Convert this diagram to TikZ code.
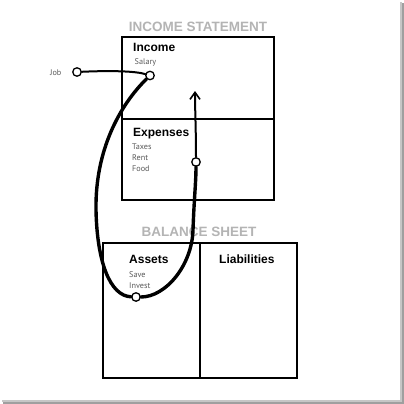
\documentclass[tikz,border=0pt]{standalone}
\usepackage{fontspec}
\setmainfont{Liberation Sans}
\newfontfamily\smallfont{PT Sans}
\usetikzlibrary{arrows.meta}
\definecolor{titlegray}{HTML}{B4B4B4}
\definecolor{smallgray}{HTML}{5A5A5A}
\tikzset{
  box/.style={draw=black, line width=1.6pt},
  ttl/.style={text=titlegray, font=\bfseries\fontsize{13.5}{14}\selectfont, inner sep=0pt},
  head/.style={anchor=base west, font=\bfseries\fontsize{12}{13}\selectfont, inner sep=0pt},
  small/.style={anchor=base west, text=smallgray, font=\smallfont\fontsize{8.2}{9}\selectfont, inner sep=0pt},
  dot/.style={circle, draw=black, fill=white, line width=1.3pt, minimum size=8.5pt, inner sep=0pt},
  flow/.style={line width=3.4pt, line cap=round},
  thin flow/.style={line width=2pt, line cap=round},
}
\begin{document}
\begin{tikzpicture}[x=1pt,y=-1pt]
\useasboundingbox (0,0) rectangle (404,404);
% page with drop shadow
\fill[gray!75] (3,3) rectangle (403.5,403.5);
\fill[gray!45] (2,2) rectangle (401.5,401.5);
\fill[white] (0,0) rectangle (400,400);
% income statement
\draw[box] (122,37) rectangle (274,200);
\draw[box] (122,119) -- (274,119);
\node[ttl] (ist) at (198,27) {INCOME STATEMENT};
\node[head] (income) at (133,52) {Income};
\node[small] (salary) at (134.5,65) {Salary};
\node[head] (expenses) at (133,136) {Expenses};
\node[small] (taxes) at (132,149) {Taxes};
\node[small] (rent) at (132,160) {Rent};
\node[small] (food) at (132,171) {Food};
% balance sheet
\draw[box] (103,243) rectangle (297,378);
\draw[box] (200,243) -- (200,378);
\node[ttl] (bst) at (199,232) {BALANCE SHEET};
\node[head] (assets) at (129,263) {Assets};
\node[small] (save) at (129,277) {Save};
\node[small] (invest) at (129,288) {Invest};
\node[head] (liab) at (219,263) {Liabilities};
% job
\node[small] (job) at (50,75) {Job};
% flow
\node[dot] (jobdot) at (77,72) {};
\node[dot] (saldot) at (150,75.5) {};
\node[dot] (expdot) at (196,162) {};
\node[dot] (assdot) at (136,297) {};
\coordinate (tip) at (195,91);
\draw[thin flow] (jobdot) .. controls (110,70.5) and (135,71) .. (saldot);
\draw[flow] (saldot) .. controls (120,105) and (95,150) .. (96,210)
   .. controls (97,262) and (110,296) .. (assdot);
\draw[flow] (assdot) .. controls (166,297) and (192,265) .. (193,230)
   .. controls (194,200) and (196,182) .. (expdot);
\draw[thin flow, -{Straight Barb[length=7pt,width=10pt,line width=1.6pt]}] (expdot) .. controls (196,130) and (195,110) .. (tip);
\end{tikzpicture}
\end{document}
